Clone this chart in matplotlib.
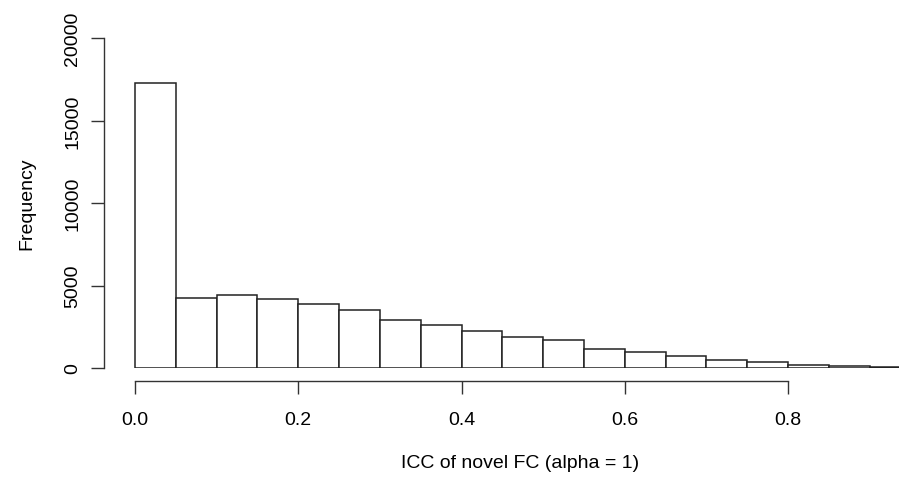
import matplotlib
matplotlib.use("Agg")
import matplotlib.pyplot as plt

# histogram of ICC values, bins of width 0.05
bin_left = [0.00, 0.05, 0.10, 0.15, 0.20, 0.25, 0.30, 0.35, 0.40, 0.45,
            0.50, 0.55, 0.60, 0.65, 0.70, 0.75, 0.80, 0.85, 0.90]
counts = [17300, 4250, 4400, 4180, 3890, 3530, 2920, 2600, 2260, 1880,
          1680, 1150, 1000, 700, 485, 340, 200, 100, 40]
bin_width = 0.05

x_ticks = [0.0, 0.2, 0.4, 0.6, 0.8]
y_ticks = [0, 5000, 10000, 15000, 20000]

plt.rcParams['font.family'] = ['Liberation Sans', 'DejaVu Sans']
plt.rcParams['font.size'] = 14

fig = plt.figure(figsize=(8.99, 4.81), dpi=100)
ax = fig.add_axes([104/899, 112/481, 1 - 104/899, 330/481])

ax.bar(bin_left, counts, width=bin_width, align='edge',
       facecolor='white', edgecolor='#222222', linewidth=1.1)

ax.set_xlim(-0.038, 0.936)
ax.set_ylim(0, 20000)

ax.spines['top'].set_visible(False)
ax.spines['right'].set_visible(False)
ax.spines['bottom'].set_position(('outward', 9.6))
ax.spines['bottom'].set_bounds(0, 0.8)
ax.spines['left'].set_bounds(0, 20000)
for s in ('bottom', 'left'):
    ax.spines[s].set_linewidth(1.0)
    ax.spines[s].set_color('#333333')

ax.set_xticks(x_ticks)
ax.set_xticklabels(['%.1f' % v for v in x_ticks])
ax.set_yticks(y_ticks)
ax.set_yticklabels([str(v) for v in y_ticks], rotation=90, va='center')
ax.tick_params(length=9.4, width=1.0, color='#333333')
ax.tick_params(axis='x', pad=12)
ax.tick_params(axis='y', pad=7)

ax.set_xlabel('ICC of novel FC (alpha = 1)', labelpad=19)
ax.xaxis.label.set_x(0.523)  # plot region in the original runs past the right edge
ax.set_ylabel('Frequency', labelpad=21)

fig.savefig('out.png', dpi=100)
